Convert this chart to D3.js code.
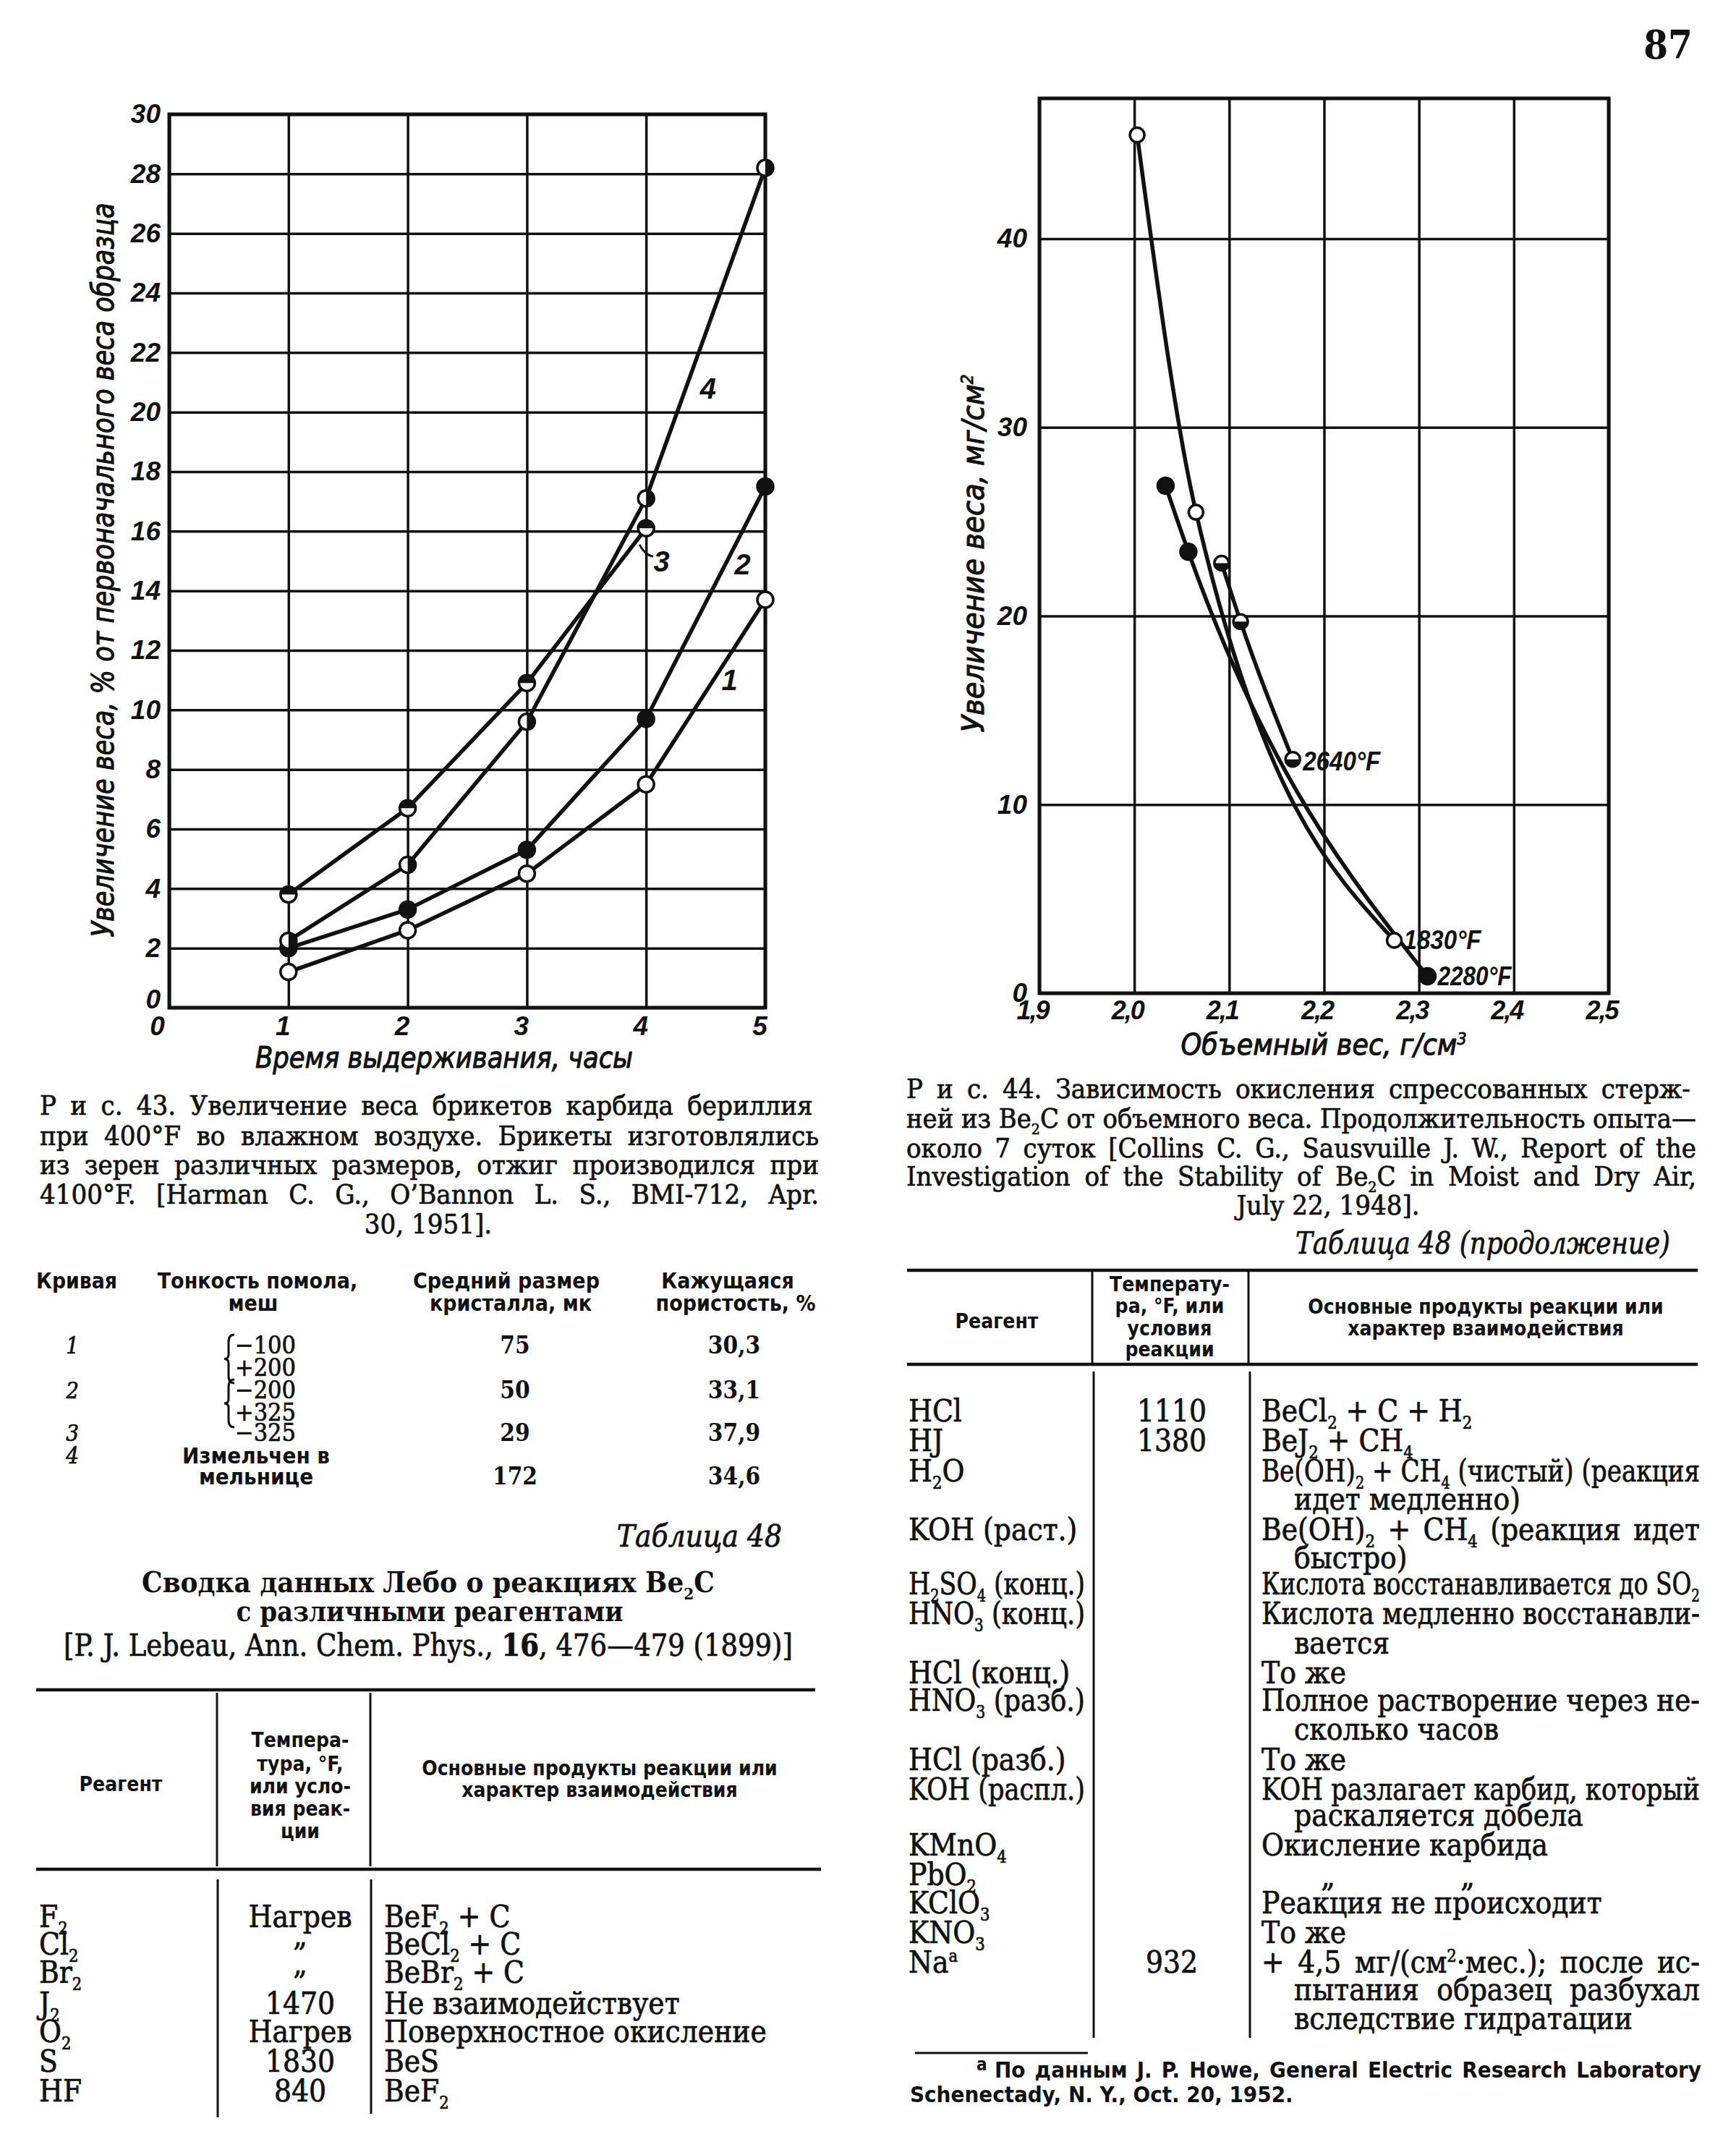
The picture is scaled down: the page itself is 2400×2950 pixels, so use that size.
<!DOCTYPE html>
<html><head><meta charset="utf-8">
<script src="https://cdn.jsdelivr.net/npm/d3@7"></script>
<style>html,body{margin:0;padding:0;background:#fff;} svg{display:block}</style>
</head><body>
<svg id="page" width="2400" height="2950"></svg>
<script>
// ---------- Fig. 43 data (weight gain, % vs hours) ----------
const hours = [1, 2, 3, 4, 5];
const curve1 = [1.2, 2.6, 4.5, 7.5, 13.7];
const curve2 = [2.0, 3.3, 5.3, 9.7, 17.5];
const curve3 = [3.8, 6.7, 10.9, 16.1];        // hours 1..4
const curve4 = [2.25, 4.8, 9.6, 17.1, 28.2];
const curveNames = ["1", "2", "3", "4"];
const hourTicks = [0, 1, 2, 3, 4, 5];
const gainTicks43 = [0, 2, 4, 6, 8, 10, 12, 14, 16, 18, 20, 22, 24, 26, 28, 30];

// ---------- Fig. 44 data (weight gain, mg/cm2 vs bulk density) ----------
const density1830 = [2.003, 2.065, 2.274];
const gain1830 = [45.5, 25.5, 2.8];
const density2640 = [2.092, 2.112, 2.167];
const gain2640 = [22.8, 19.7, 12.4];
const density2280 = [2.033, 2.057, 2.309];
const gain2280 = [26.9, 23.4, 0.9];
const tempLabels = ["1830°F", "2640°F", "2280°F"];
const densityTicks = [1.9, 2.0, 2.1, 2.2, 2.3, 2.4, 2.5];
const densityTickLabels = ["1,9", "2,0", "2,1", "2,2", "2,3", "2,4", "2,5"];
const gainTicks44 = [0, 10, 20, 30, 40];

// ---------- page texts ----------
const caption43 = [
  "Р и с.  43. Увеличение веса брикетов карбида бериллия",
  "при 400°F во влажном воздухе. Брикеты изготовлялись",
  "из зерен различных размеров, отжиг производился при",
  "4100°F. [Harman C. G., O’Bannon L. S., BMI-712, Apr.",
  "30, 1951]."
];
const caption44 = [
  "Р и с.  44. Зависимость окисления спрессованных стерж-",
  "ней из Be{_2}C от объемного веса. Продолжительность опыта—",
  "около 7 суток [Collins C. G., Sausvuille J. W., Report of the",
  "Investigation of the Stability of Be{_2}C in Moist and Dry Air,",
  "July 22, 1948]."
];
const meshCurves = ["1", "2", "3", "4"];
const meshSizes = [["−100", "+200"], ["−200", "+325"], ["−325"], ["Измельчен в", "мельнице"]];
const crystalSizes = ["75", "50", "29", "172"];
const porosity = ["30,3", "33,1", "37,9", "34,6"];

const t48Reagents = ["F{_2}", "Cl{_2}", "Br{_2}", "J{_2}", "O{_2}", "S", "HF"];
const t48Temps = ["Нагрев", "„", "„", "1470", "Нагрев", "1830", "840"];
const t48Products = ["BeF{_2} + C", "BeCl{_2} + C", "BeBr{_2} + C", "Не взаимодействует",
  "Поверхностное окисление", "BeS", "BeF{_2}"];

// [reagent, temperature, product, kind]  kind: j=justified, i=indented, ij=indented+justified
const t48cRows = [
  ["HCl", "1110", "BeCl{_2} + C + H{_2}", ""],
  ["HJ", "1380", "BeJ{_2} + CH{_4}", ""],
  ["H{_2}O", "", "Be(OH){_2} + CH{_4} (чистый) (реакция", "j"],
  ["", "", "идет медленно)", "i"],
  ["KOH (раст.)", "", "Be(OH){_2} + CH{_4} (реакция идет", "j"],
  ["", "", "быстро)", "i"],
  ["H{_2}SO{_4} (конц.)", "", "Кислота восстанавливается до SO{_2}", "j"],
  ["HNO{_3} (конц.)", "", "Кислота медленно восстанавли-", "j"],
  ["", "", "вается", "i"],
  ["HCl (конц.)", "", "То же", ""],
  ["HNO{_3} (разб.)", "", "Полное растворение через не-", "j"],
  ["", "", "сколько часов", "i"],
  ["HCl (разб.)", "", "То же", ""],
  ["KOH (распл.)", "", "KOH разлагает карбид, который", "j"],
  ["", "", "раскаляется добела", "i"],
  ["KMnO{_4}", "", "Окисление карбида", ""],
  ["PbO{_2}", "", "ditto", ""],
  ["KClO{_3}", "", "Реакция не происходит", ""],
  ["KNO{_3}", "", "То же", ""],
  ["Na{^a}", "932", "+ 4,5 мг/(см{^2}·мес.); после ис-", "j"],
  ["", "", "пытания образец разбухал", "ij"],
  ["", "", "вследствие гидратации", "i"]
];

// ---------- drawing helpers ----------
const INK = "#111";
const SERIF = "'DejaVu Serif Condensed','DejaVu Serif',serif";
const SANSC = "'DejaVu Sans Condensed','DejaVu Sans',sans-serif";
const CHART = "'Liberation Sans','DejaVu Sans',sans-serif";
const svg = d3.select("#page");
svg.append("rect").attr("width", 2400).attr("height", 2950).attr("fill", "#fff");

function addText(parent, x, y, str, o = {}) {
  const size = o.size || 40;
  const t = parent.append("text").attr("x", x).attr("y", y)
    .attr("font-family", o.family || SERIF).attr("font-size", size)
    .attr("font-style", o.italic ? "italic" : null)
    .attr("font-weight", o.weight || null)
    .attr("text-anchor", o.anchor || "start").attr("fill", INK);
  const sw = o.sw === undefined ? 0.7 : o.sw;
  if (sw > 0) t.attr("stroke", INK).attr("stroke-width", sw);
  if (o.transform) t.attr("transform", o.transform);
  const re = /\{([_^])([^}]*)\}/g;
  let last = 0, m, pending = 0, plain = "";
  const push = (s) => {
    const sp = t.append("tspan").text(s);
    if (pending) { sp.attr("dy", pending); pending = 0; }
    plain += s;
  };
  while ((m = re.exec(str))) {
    if (m.index > last) push(str.slice(last, m.index));
    const off = m[1] === "_" ? size * 0.24 : -size * 0.36;
    t.append("tspan").text(m[2]).attr("font-size", size * 0.56).attr("dy", pending + off);
    pending = -off;
    plain += m[2];
    last = m.index + m[0].length;
  }
  if (last < str.length) push(str.slice(last));
  const L = t.node().getComputedTextLength();
  if (o.width) {
    const spaces = (plain.match(/ /g) || []).length;
    if (!o.fit && L < o.width && spaces > 0) {
      t.attr("word-spacing", (o.width - L) / spaces);
    } else {
      t.attr("textLength", o.width).attr("lengthAdjust", "spacingAndGlyphs");
    }
  } else if (o.maxWidth && L > o.maxWidth) {
    t.attr("textLength", o.maxWidth).attr("lengthAdjust", "spacingAndGlyphs");
  }
  return t;
}

function marker(g, cx, cy, r, type, sw) {
  g.append("circle").attr("cx", cx).attr("cy", cy).attr("r", r)
    .attr("fill", type === "filled" ? INK : "#fff").attr("stroke", INK).attr("stroke-width", sw);
  let d = null;
  if (type === "top") d = `M${cx - r},${cy} A${r},${r} 0 0 1 ${cx + r},${cy} Z`;
  if (type === "bottom") d = `M${cx - r},${cy} A${r},${r} 0 0 0 ${cx + r},${cy} Z`;
  if (type === "right") d = `M${cx},${cy - r} A${r},${r} 0 0 1 ${cx},${cy + r} Z`;
  if (d) g.append("path").attr("d", d).attr("fill", INK);
}

function styleTicks(axisG, size) {
  axisG.select(".domain").remove();
  axisG.selectAll(".tick line").attr("stroke", INK).attr("stroke-width", 3.5);
  axisG.selectAll(".tick text").attr("fill", INK).attr("font-family", CHART)
    .attr("font-size", size).attr("font-style", "italic").attr("font-weight", "bold");
}

// ---------- page number ----------
addText(svg, 2306, 81, "87", { size: 54, weight: "bold", anchor: "middle", family: SERIF, sw: 0 });

// ================= Fig. 43 =================
const xL = d3.scaleLinear().domain([0, 5]).range([234, 1058]);
const yL = d3.scaleLinear().domain([0, 30]).range([1393, 158]);
const gL = svg.append("g");
const axL = gL.append("g").attr("transform", `translate(${xL(0)},0)`)
  .call(d3.axisLeft(yL).tickValues(gainTicks43).tickSize(-(xL(5) - xL(0))).tickPadding(12).tickFormat(d3.format("d")));
styleTicks(axL, 37);
axL.selectAll(".tick").filter(d => d === 0).select("text").attr("dy", "0.0em");
const axB = gL.append("g").attr("transform", `translate(0,${yL(0)})`)
  .call(d3.axisBottom(xL).tickValues(hourTicks).tickSize(-(yL(0) - yL(30))).tickPadding(12).tickFormat(d3.format("d")));
styleTicks(axB, 37);
axB.selectAll(".tick text").attr("dx", -8);
axB.selectAll(".tick").filter(d => d === 0).select("text").attr("dx", -17);
gL.append("rect").attr("x", xL(0)).attr("y", yL(30)).attr("width", xL(5) - xL(0)).attr("height", yL(0) - yL(30))
  .attr("fill", "none").attr("stroke", INK).attr("stroke-width", 5);

const series43 = [
  { vals: curve1, type: "open" },
  { vals: curve2, type: "filled" },
  { vals: curve3, type: "top" },
  { vals: curve4, type: "right" }
];
const lineL = d3.line().x(d => xL(d[0])).y(d => yL(d[1]));
series43.forEach(s => {
  const pts = s.vals.map((v, i) => [hours[i], v]);
  gL.append("path").attr("d", lineL(pts)).attr("fill", "none").attr("stroke", INK)
    .attr("stroke-width", 5.5).attr("stroke-linejoin", "round").attr("stroke-linecap", "round");
});
series43.forEach(s => {
  s.vals.forEach((v, i) => marker(gL, xL(hours[i]), yL(v), 11, s.type, 3.5));
});
// curve numbers
const lblPos43 = [[4.70, 11.0], [4.81, 14.9], [4.13, 15.0], [4.52, 20.8]];
curveNames.forEach((n, i) => addText(gL, xL(lblPos43[i][0]), yL(lblPos43[i][1]) + 14, n,
  { family: CHART, size: 40, italic: true, weight: "bold", anchor: "middle", sw: 0 }));
gL.append("path").attr("d", `M${xL(3.945)},${yL(15.55)} Q${xL(3.99)},${yL(15.2)} ${xL(4.06)},${yL(15.15)}`)
  .attr("fill", "none").attr("stroke", INK).attr("stroke-width", 3);

addText(gL, 614, 1476, "Время выдерживания, часы",
  { family: SANSC, size: 40, italic: true, anchor: "middle", width: 522, fit: true, sw: 1 });
addText(gL, 0, 0, "Увеличение веса, % от первоначального веса образца",
  { family: SANSC, size: 42, italic: true, anchor: "middle", width: 1015, fit: true, sw: 1,
    transform: "translate(157,788) rotate(-90)" });

// ================= Fig. 44 =================
const xR = d3.scaleLinear().domain([1.9, 2.5]).range([1437, 2224]);
const yR = d3.scaleLinear().domain([0, 47.44]).range([1373, 136]);
const gR = svg.append("g");
const axRL = gR.append("g").attr("transform", `translate(${xR(1.9)},0)`)
  .call(d3.axisLeft(yR).tickValues(gainTicks44).tickSize(-(xR(2.5) - xR(1.9))).tickPadding(17).tickFormat(d3.format("d")));
styleTicks(axRL, 37);
const axRB = gR.append("g").attr("transform", `translate(0,${yR(0)})`)
  .call(d3.axisBottom(xR).tickValues(densityTicks).tickSize(-(yR(0) - yR(47.44))).tickPadding(10)
    .tickFormat((d, i) => densityTickLabels[i]));
styleTicks(axRB, 36);
axRB.selectAll(".tick text").attr("dx", -10).attr("letter-spacing", -2);
gR.append("rect").attr("x", xR(1.9)).attr("y", yR(47.44)).attr("width", xR(2.5) - xR(1.9)).attr("height", yR(0) - yR(47.44))
  .attr("fill", "none").attr("stroke", INK).attr("stroke-width", 5);

const lineR = d3.line().x(d => xR(d[0])).y(d => yR(d[1])).curve(d3.curveMonotoneX);
const series44 = [
  { x: density1830, y: gain1830, type: "open" },
  { x: density2640, y: gain2640, type: "bottom" },
  { x: density2280, y: gain2280, type: "filled" }
];
series44.forEach(s => {
  const pts = s.x.map((v, i) => [v, s.y[i]]);
  gR.append("path").attr("d", lineR(pts)).attr("fill", "none").attr("stroke", INK)
    .attr("stroke-width", 5.5).attr("stroke-linecap", "round");
});
series44.forEach(s => s.x.forEach((v, i) => marker(gR, xR(v), yR(s.y[i]), s.type === "filled" ? 11 : 10, s.type, 3.5)));
// temperature labels next to the last point of each curve
const tlOffsets = [[13, 12, 107], [14, 15, 107], [14, 12, 102]];
series44.forEach((s, k) => {
  const n = s.x.length - 1;
  addText(gR, xR(s.x[n]) + tlOffsets[k][0], yR(s.y[n]) + tlOffsets[k][1], tempLabels[k],
    { family: CHART, size: 36, italic: true, weight: "bold", width: tlOffsets[k][2], fit: true, sw: 0 });
});

addText(gR, 1830, 1458, "Объемный вес, г/см{^3}",
  { family: SANSC, size: 40, italic: true, anchor: "middle", width: 395, fit: true, sw: 1 });
addText(gR, 0, 0, "Увеличение веса, мг/см{^2}",
  { family: SANSC, size: 42, italic: true, anchor: "middle", width: 495, fit: true, sw: 1,
    transform: "translate(1360,765) rotate(-90)" });

// ================= captions =================
const capBase43 = [1541, 1583, 1623, 1664, 1705];
caption43.forEach((l, i) => {
  if (i < 4) addText(svg, 55, capBase43[i], l, { size: 38, width: 1077 });
  else addText(svg, 592, capBase43[i], l, { size: 38, anchor: "middle" });
});
const capBase44 = [1518, 1559, 1600, 1639, 1679];
caption44.forEach((l, i) => {
  if (i < 4) addText(svg, 1253, capBase44[i], l, { size: 38, width: 1092 });
  else addText(svg, 1836, capBase44[i], l, { size: 38, anchor: "middle" });
});

// ================= small table (Fig. 43) =================
const hdr = { family: SANSC, size: 30, weight: "bold", sw: 0 };
addText(svg, 50, 1781, "Кривая", { ...hdr, width: 112, fit: true });
addText(svg, 356, 1781, "Тонкость помола,", { ...hdr, anchor: "middle" });
addText(svg, 350, 1812, "меш", { ...hdr, anchor: "middle" });
addText(svg, 700, 1781, "Средний размер", { ...hdr, anchor: "middle" });
addText(svg, 706, 1812, "кристалла, мк", { ...hdr, anchor: "middle" });
addText(svg, 1006, 1781, "Кажущаяся", { ...hdr, anchor: "middle" });
addText(svg, 1017, 1812, "пористость, %", { ...hdr, anchor: "middle" });
const meshRowBase = [1871, 1933, 1992, 2023];
meshCurves.forEach((c, i) => {
  const b = meshRowBase[i];
  addText(svg, 100, b, c, { family: SERIF, size: 31, italic: true, anchor: "middle" });
  const lines = meshSizes[i];
  const last = i === 3 ? b + 29 : b;
  lines.forEach((l, k) => {
    if (i === 3) addText(svg, 354, b + k * 29, l, { family: SANSC, size: 31, weight: "bold", anchor: "middle", sw: 0 });
    else addText(svg, 325, b + k * 31, l, { family: SERIF, size: 34 });
  });
  addText(svg, 712, last, crystalSizes[i], { family: SERIF, size: 33, anchor: "middle", weight: "bold", sw: 0 });
  addText(svg, 1015, last, porosity[i], { family: SERIF, size: 33, anchor: "middle", weight: "bold", sw: 0 });
});
// braces for rows 1 and 2
[[1845, 1912], [1907, 1973]].forEach(([a, b]) => {
  const x = 316, m = (a + b) / 2;
  svg.append("path").attr("d",
    `M${x + 8},${a} Q${x},${a} ${x},${a + 10} L${x},${m - 6} Q${x},${m} ${x - 6},${m} Q${x},${m} ${x},${m + 6} L${x},${b - 10} Q${x},${b} ${x + 8},${b}`)
    .attr("fill", "none").attr("stroke", INK).attr("stroke-width", 3);
});

// ================= Table 48 =================
addText(svg, 1081, 2138, "Таблица 48", { family: SERIF, size: 42, italic: true, anchor: "end" });
addText(svg, 592, 2201, "Сводка данных Лебо о реакциях Be{_2}C", { family: SERIF, size: 40, weight: "bold", anchor: "middle", width: 792, fit: true, sw: 0 });
addText(svg, 594, 2241, "с различными реагентами", { family: SERIF, size: 40, weight: "bold", anchor: "middle", width: 535, fit: true, sw: 0 });
const ref = addText(svg, 592, 2289, "[P. J. Lebeau, Ann. Chem. Phys., ", { family: SERIF, size: 42, anchor: "middle" });
ref.append("tspan").attr("font-weight", "bold").text("16");
ref.append("tspan").text(", 476—479 (1899)]");
ref.attr("textLength", 1008).attr("lengthAdjust", "spacingAndGlyphs");

function rule(x1, x2, y, w) {
  svg.append("line").attr("x1", x1).attr("x2", x2).attr("y1", y).attr("y2", y).attr("stroke", INK).attr("stroke-width", w);
}
function vline(x, y1, y2, w) {
  svg.append("line").attr("x1", x).attr("x2", x).attr("y1", y1).attr("y2", y2).attr("stroke", INK).attr("stroke-width", w);
}
rule(50, 1127, 2336, 4.5);
rule(50, 1135, 2584, 4.5);
vline(300, 2340, 2580, 3); vline(512, 2340, 2580, 3);
vline(301, 2598, 2927, 3); vline(513, 2598, 2922, 3);
const th = { family: SANSC, size: 28, weight: "bold", anchor: "middle", sw: 0 };
addText(svg, 167, 2476, "Реагент", th);
["Темпера-", "тура, °F,", "или усло-", "вия реак-", "ции"].forEach((l, i) => addText(svg, 415, [2415, 2448, 2479, 2510, 2541][i], l, th));
addText(svg, 829, 2454, "Основные продукты реакции или", th);
addText(svg, 829, 2484, "характер взаимодействия", th);
const t48Base = [2664, 2702, 2741, 2784, 2823, 2864, 2905];
t48Reagents.forEach((r, i) => {
  addText(svg, 54, t48Base[i], r, { size: 42 });
  const isDitto = t48Temps[i] === "„";
  addText(svg, 415, t48Base[i] - (isDitto ? 12 : 0), t48Temps[i], { size: 42, anchor: "middle" });
  addText(svg, 531, t48Base[i], t48Products[i], { size: 42 });
});

// ================= Table 48 (continued) =================
addText(svg, 2309, 1733, "Таблица 48 (продолжение)", { family: SERIF, size: 42, italic: true, anchor: "end", width: 518, fit: true });
rule(1254, 2347, 1756, 4.5);
rule(1254, 2347, 1886, 4.5);
vline(1510, 1758, 1884, 3); vline(1726, 1758, 1884, 3);
vline(1512, 1896, 2817, 3); vline(1728, 1896, 2817, 3);
addText(svg, 1378, 1836, "Реагент", th);
["Температу-", "ра, °F, или", "условия", "реакции"].forEach((l, i) => addText(svg, 1617, [1785, 1815, 1846, 1875][i], l, th));
addText(svg, 2054, 1816, "Основные продукты реакции или", th);
addText(svg, 2054, 1846, "характер взаимодействия", th);
const t48cBase = [1965, 2006, 2048, 2087, 2129, 2168, 2204, 2245, 2286, 2327, 2365, 2405,
  2447, 2488, 2524, 2565, 2606, 2645, 2686, 2727, 2765, 2805];
t48cRows.forEach((r, i) => {
  const b = t48cBase[i];
  if (r[0]) addText(svg, 1256, b, r[0], { size: 42, maxWidth: 244 });
  if (r[1]) addText(svg, 1620, b, r[1], { size: 42, anchor: "middle" });
  if (r[2] === "ditto") {
    addText(svg, 1836, b + 2, "„", { size: 42, anchor: "middle" });
    addText(svg, 2029, b + 2, "„", { size: 42, anchor: "middle" });
    return;
  }
  const ind = r[3].includes("i");
  const just = r[3].includes("j");
  const x = ind ? 1789 : 1744;
  const o = { size: 42 };
  if (just) o.width = 2350 - x;
  addText(svg, x, b, r[2], o);
});
// footnote
rule(1265, 1504, 2838, 3);
addText(svg, 1350, 2862, "a", { family: SANSC, size: 24, weight: "bold", sw: 0 });
addText(svg, 1375, 2872, "По данным J. P. Howe, General Electric Research Laboratory", { family: SANSC, size: 31, weight: "bold", width: 977, sw: 0 });
addText(svg, 1258, 2906, "Schenectady, N. Y., Oct. 20, 1952.", { family: SANSC, size: 31, weight: "bold", sw: 0 });
</script>
</body></html>
